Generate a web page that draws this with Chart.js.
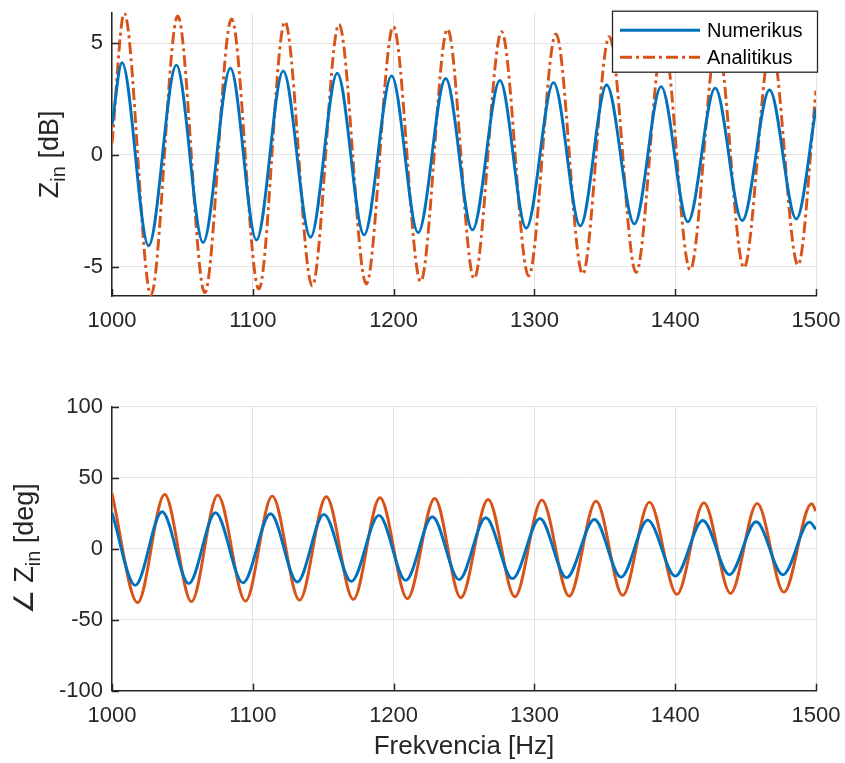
<!DOCTYPE html>
<html><head><meta charset="utf-8">
<script src="https://cdn.jsdelivr.net/npm/chart.js@4.4.1/dist/chart.umd.min.js"></script>
<style>
html,body{margin:0;padding:0;background:#fff;}
#wrap{position:relative;width:845px;height:763px;background:#fff;}
canvas{position:absolute;left:0;}
</style></head><body>
<div id="wrap">
<canvas id="c1" width="845" height="345" style="top:0px"></canvas>
<canvas id="c2" width="845" height="383" style="top:380px"></canvas>
</div>
<script>
// ---------- DATA ----------
const xTicks = [1000, 1100, 1200, 1300, 1400, 1500];
const magTicks = [-5, 0, 5];
const phaseTicks = [-100, -50, 0, 50, 100];
const seriesNames = ['Numerikus', 'Analitikus'];
const xTitle = 'Frekvencia [Hz]';
const magTitle = ['Z', 'in', ' [dB]'];
const phaseTitle = ['\u2220 Z', 'in', ' [deg]'];

// Top: |Z_in| in dB (extrema + end points)
const numMagFreq = [1000, 1007.1, 1026.0, 1045.7, 1064.7, 1084.1, 1102.6, 1121.6, 1141.0, 1160.0, 1179.0, 1198.6, 1217.4, 1237.0, 1256.0, 1275.5, 1294.2, 1313.6, 1332.6, 1351.3, 1371.0, 1390.0, 1409.0, 1428.4, 1447.6, 1467.0, 1486.0, 1500];
const numMag     = [1.34, 4.13, -4.07, 4.02, -3.93, 3.88, -3.81, 3.76, -3.69, 3.66, -3.58, 3.54, -3.48, 3.42, -3.36, 3.33, -3.28, 3.24, -3.18, 3.13, -3.09, 3.06, -3.00, 2.99, -2.94, 2.91, -2.87, 2.09];
const anaMagFreq = [1000, 1008.7, 1027.7, 1046.7, 1065.9, 1084.9, 1104.3, 1122.8, 1142.2, 1161.2, 1180.6, 1199.8, 1219.2, 1238.3, 1257.2, 1276.7, 1295.9, 1315.3, 1334.3, 1353.2, 1372.2, 1391.5, 1410.6, 1429.8, 1448.8, 1468.2, 1487.2, 1500];
const anaMag     = [0.52, 6.35, -6.27, 6.22, -6.17, 6.09, -6.01, 5.96, -5.87, 5.85, -5.78, 5.75, -5.67, 5.63, -5.54, 5.52, -5.42, 5.42, -5.33, 5.30, -5.27, 5.20, -5.15, 5.12, -5.05, 5.02, -4.93, 2.88];

// Bottom: phase of Z_in in degrees
const numPhFreq = [1000, 1016.5, 1035.6, 1054.5, 1073.5, 1093.0, 1112.6, 1131.6, 1150.5, 1170.0, 1189.6, 1208.6, 1227.5, 1246.5, 1265.5, 1284.4, 1303.9, 1322.8, 1342.6, 1361.5, 1380.5, 1400.1, 1419.6, 1438.5, 1457.5, 1476.5, 1495.4, 1500];
const numPh     = [25.3, -25.8, 26.0, -24.6, 25.3, -24.0, 24.6, -23.5, 24.2, -23.0, 23.5, -22.3, 22.5, -21.8, 21.8, -21.1, 21.3, -20.4, 20.6, -20.0, 20.1, -19.3, 19.9, -18.3, 19.0, -18.3, 18.7, 13.6];
const anaPhFreq = [1000, 1018.2, 1037.4, 1056.4, 1075.1, 1094.8, 1113.8, 1133.2, 1152.2, 1171.4, 1190.3, 1209.8, 1229.2, 1247.7, 1267.1, 1286.1, 1305.3, 1324.7, 1343.8, 1362.7, 1381.7, 1401.2, 1420.4, 1439.3, 1458.2, 1477.2, 1496.8, 1500];
const anaPh     = [38.9, -38.0, 38.2, -37.3, 37.7, -36.9, 37.0, -36.2, 36.6, -35.7, 35.9, -35.2, 35.4, -34.5, 34.7, -33.8, 34.2, -33.4, 33.5, -32.9, 32.8, -32.2, 32.4, -31.5, 31.9, -30.6, 31.7, 26.5];

// ---------- STYLE ----------
const FONT = '"Liberation Sans", Arial, Helvetica, sans-serif';
const TXT = '#262626';
const GRID = '#e2e2e2';
const BLUE = '#0072BD';
const ORANGE = '#D95319';
const DASHDOT = [12, 4, 3, 4];

function pts(xs, ys) { return xs.map((x, i) => ({ x: x, y: ys[i] })); }

function ds(label, xs, ys, color, dash) {
  return {
    label: label, data: pts(xs, ys), borderColor: color, backgroundColor: color,
    borderWidth: 2.9, borderDash: dash || [], pointRadius: 0,
    cubicInterpolationMode: 'monotone', tension: 0.4, fill: false
  };
}

function noPad(s) { s.paddingLeft = 0; s.paddingRight = 0; s.paddingTop = 0; s.paddingBottom = 0; }

const innerTicks = {
  id: 'innerTicks',
  afterDraw(chart) {
    const ctx = chart.ctx, a = chart.chartArea, L = 7;
    ctx.save();
    ctx.strokeStyle = TXT; ctx.lineWidth = 1.5;
    chart.scales.x.ticks.forEach(t => {
      const px = Math.round(chart.scales.x.getPixelForValue(t.value)) + 0.5;
      ctx.beginPath(); ctx.moveTo(px, a.bottom); ctx.lineTo(px, a.bottom - L); ctx.stroke();
    });
    chart.scales.y.ticks.forEach(t => {
      const py = Math.round(chart.scales.y.getPixelForValue(t.value)) + 0.5;
      ctx.beginPath(); ctx.moveTo(a.left, py); ctx.lineTo(a.left + L, py); ctx.stroke();
    });
    ctx.restore();
  }
};

function yTitlePlugin(parts, baseX) {
  return {
    id: 'yTitle',
    afterDraw(chart) {
      const ctx = chart.ctx, a = chart.chartArea;
      const big = '27px ' + FONT, small = '20px ' + FONT;
      ctx.save();
      ctx.font = big; const w0 = ctx.measureText(parts[0]).width; const w2 = ctx.measureText(parts[2]).width;
      ctx.font = small; const w1 = ctx.measureText(parts[1]).width;
      const total = w0 + w1 + w2;
      const cy = (a.top + a.bottom) / 2;
      ctx.translate(baseX, cy);
      ctx.rotate(-Math.PI / 2);
      ctx.fillStyle = TXT; ctx.textBaseline = 'alphabetic'; ctx.textAlign = 'left';
      let x = -total / 2;
      ctx.font = big; ctx.fillText(parts[0], x, 0); x += w0;
      ctx.font = small; ctx.fillText(parts[1], x, 7); x += w1;
      ctx.font = big; ctx.fillText(parts[2], x, 0);
      ctx.restore();
    }
  };
}

const legendBox = {
  id: 'legendBox',
  afterDraw(chart) {
    const ctx = chart.ctx, a = chart.chartArea;
    const w = 206, h = 62;
    const left = a.right + 2 - w, top = a.top - 2;
    ctx.save();
    ctx.fillStyle = '#ffffff';
    ctx.fillRect(left, top, w, h);
    ctx.strokeStyle = TXT; ctx.lineWidth = 1.3;
    ctx.strokeRect(left + 0.5, top + 0.5, w - 1, h - 1);
    const rows = [top + 19.5, top + 46.5];
    chart.data.datasets.forEach((d, i) => {
      ctx.strokeStyle = d.borderColor; ctx.lineWidth = 2.9; ctx.setLineDash(d.borderDash || []);
      ctx.beginPath(); ctx.moveTo(left + 8, rows[i]); ctx.lineTo(left + 88, rows[i]); ctx.stroke();
      ctx.setLineDash([]);
      ctx.fillStyle = '#000000'; ctx.font = '20px ' + FONT; ctx.textBaseline = 'middle'; ctx.textAlign = 'left';
      ctx.fillText(d.label, left + 95, rows[i] + 1);
    });
    ctx.restore();
  }
};

function makeChart(id, datasets, yMin, yMax, yTicks, padTop, xAxisH, showXTitle, extraPlugins) {
  return new Chart(document.getElementById(id), {
    type: 'line',
    data: { datasets: datasets },
    options: {
      responsive: false, animation: false, devicePixelRatio: 1,
      layout: { padding: { top: padTop, right: 29, left: 0, bottom: 0 } },
      plugins: { legend: { display: false }, tooltip: { enabled: false } },
      scales: {
        x: {
          type: 'linear', min: 1000, max: 1500,
          afterBuildTicks: s => { s.ticks = xTicks.map(v => ({ value: v })); },
          afterFit: s => { s.height = xAxisH; noPad(s); },
          grid: { color: GRID, lineWidth: 1, drawTicks: false },
          border: { color: TXT, width: 1.5 },
          ticks: { color: TXT, font: { size: 22, family: FONT }, padding: 12, maxRotation: 0, autoSkip: false, callback: v => String(v) },
          title: { display: showXTitle, text: xTitle, color: TXT, font: { size: 26, family: FONT }, padding: { top: 0, bottom: 1 } }
        },
        y: {
          type: 'linear', min: yMin, max: yMax,
          afterBuildTicks: s => { s.ticks = yTicks.map(v => ({ value: v })); },
          afterFit: s => { s.width = 112; noPad(s); },
          grid: { color: GRID, lineWidth: 1, drawTicks: false },
          border: { color: TXT, width: 1.5 },
          ticks: { color: TXT, font: { size: 22, family: FONT }, padding: 9, autoSkip: false, callback: v => String(v) }
        }
      }
    },
    plugins: [innerTicks].concat(extraPlugins)
  });
}

makeChart('c1', [
  ds(seriesNames[0], numMagFreq, numMag, BLUE),
  ds(seriesNames[1], anaMagFreq, anaMag, ORANGE, DASHDOT)
], -6.32, 6.37, magTicks, 12.7, 49, false, [yTitlePlugin(magTitle, 58), legendBox]);

makeChart('c2', [
  ds(seriesNames[0], numPhFreq, numPh, BLUE),
  ds(seriesNames[1], anaPhFreq, anaPh, ORANGE)
], -100, 100, phaseTicks, 26.7, 72.3, true, [yTitlePlugin(phaseTitle, 33)]);
</script>
</body></html>
